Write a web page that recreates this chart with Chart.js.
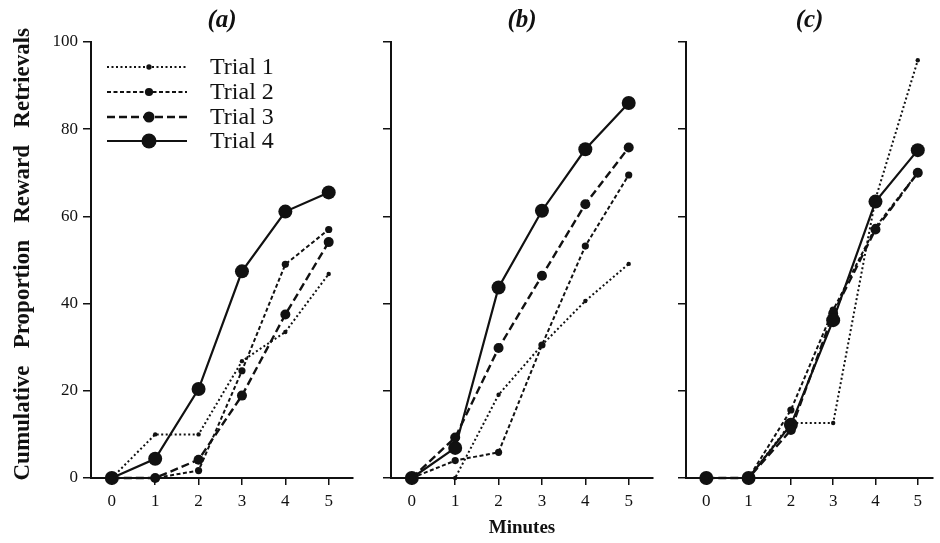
<!DOCTYPE html>
<html>
<head>
<meta charset="utf-8">
<script src="https://cdn.jsdelivr.net/npm/chart.js@4/dist/chart.umd.min.js"></script>
<style>
  html, body { margin: 0; padding: 0; background: #fff; }
  #wrap { position: relative; width: 940px; height: 543px; overflow: hidden; }
  canvas { position: absolute; top: 0; }
</style>
</head>
<body>
<div id="wrap">
  <canvas id="chartA" width="360" height="543" style="left:0"></canvas>
  <canvas id="chartB" width="300" height="543" style="left:360px"></canvas>
  <canvas id="chartC" width="280" height="543" style="left:660px"></canvas>
</div>
<script>
// ---- data ----
const minutes = [0, 1, 2, 3, 4, 5];
const yTicks = [0, 20, 40, 60, 80, 100];
const trialNames = ['Trial 1', 'Trial 2', 'Trial 3', 'Trial 4'];

// panel (a)
const a_trial1 = [0, 10, 10, 26.8, 33.5, 46.8];
const a_trial2 = [0, 0, 1.7, 24.6, 49, 57];
const a_trial3 = [0, 0, 4.2, 18.9, 37.5, 54.1];
const a_trial4 = [0, 4.4, 20.4, 47.4, 61.1, 65.5];

// panel (b)
const b_trial1 = [0, 0, 19.1, 30.5, 40.6, 49.1];
const b_trial2 = [0, 4, 5.9, 30.5, 53.2, 69.5];
const b_trial3 = [0, 9.3, 29.8, 46.4, 62.8, 75.8];
const b_trial4 = [0, 6.9, 43.7, 61.3, 75.4, 86];

// panel (c)
const c_trial1 = [0, 0, 12.6, 12.6, 64, 95.8];
const c_trial2 = [0, 0, 15.6, 38.5, 57.5, 70];
const c_trial3 = [0, 0, 11, 37.7, 57, 70];
const c_trial4 = [0, 0, 12.2, 36.2, 63.4, 75.2];

// line look for each trial
const trialStyles = [
  { dash: [2, 2.5], width: 2, radius: 2.2 },
  { dash: [4, 2.5], width: 2, radius: 3.6 },
  { dash: [8, 4], width: 2.4, radius: 5 },
  { dash: [], width: 2.2, radius: 7 }
];

const INK = '#111';
const SERIF = '"Liberation Serif", "Times New Roman", serif';

Chart.defaults.font.family = SERIF;
Chart.defaults.color = INK;

/* ========== legend drawn inside panel (a) ========== */
const trialLegend = {
  id: 'trialLegend',
  afterDraw(chart) {
    const ctx = chart.ctx;
    const rows = [67, 92, 117, 141];
    chart.data.datasets.forEach((ds, i) => {
      const y = rows[i];
      ctx.save();
      ctx.strokeStyle = INK;
      ctx.lineWidth = ds.borderWidth;
      ctx.setLineDash(ds.borderDash);
      ctx.beginPath();
      ctx.moveTo(107, y);
      ctx.lineTo(187, y);
      ctx.stroke();
      ctx.setLineDash([]);
      ctx.fillStyle = INK;
      ctx.beginPath();
      ctx.arc(149, y, ds.pointRadius + 0.5, 0, Math.PI * 2);
      ctx.fill();
      ctx.font = '24px ' + SERIF;
      ctx.textBaseline = 'middle';
      ctx.fillText(ds.label, 210, y + 1);
      ctx.restore();
    });
  }
};

/* ========== one panel ========== */
function makePanel(canvasId, title, series, cfg) {
  const datasets = series.map((vals, i) => ({
    label: trialNames[i],
    data: minutes.map((m, j) => ({ x: m, y: vals[j] })),
    borderColor: INK,
    backgroundColor: INK,
    borderWidth: trialStyles[i].width,
    borderDash: trialStyles[i].dash,
    pointRadius: trialStyles[i].radius,
    pointBorderWidth: 0,
    pointBackgroundColor: INK,
    tension: 0,
    clip: false
  }));

  return new Chart(document.getElementById(canvasId), {
    type: 'line',
    data: { datasets },
    plugins: cfg.legend ? [trialLegend] : [],
    options: {
      responsive: false,
      animation: false,
      layout: { padding: 0 },
      plugins: {
        legend: { display: false },
        tooltip: { enabled: false },
        title: {
          display: true,
          text: title,
          fullSize: false,
          font: { size: 25, style: 'italic', weight: 'bold', family: SERIF },
          padding: { top: 6, bottom: 6 },
          color: INK
        }
      },
      scales: {
        x: {
          type: 'linear',
          min: -0.48,
          max: cfg.xMax,
          afterBuildTicks: s => { s.ticks = minutes.map(v => ({ value: v })); },
          afterFit: s => { s.height = 65; },
          border: { display: true, color: INK, width: 2 },
          grid: { drawOnChartArea: false, drawTicks: true, tickLength: 7, color: INK, lineWidth: 1.5 },
          ticks: { font: { size: 17 }, padding: 6, color: INK },
          title: {
            display: !!cfg.xTitle,
            text: 'Minutes',
            font: { size: 19, weight: 'bold' },
            padding: { top: 0, bottom: 4 },
            color: INK
          }
        },
        y: {
          min: 0,
          max: 100,
          afterBuildTicks: s => { s.ticks = yTicks.map(v => ({ value: v })); },
          afterFit: s => { s.width = cfg.axisWidth; },
          border: { display: true, color: INK, width: 2 },
          grid: { drawOnChartArea: false, drawTicks: true, tickLength: 8, color: INK, lineWidth: 1.5 },
          ticks: { display: !!cfg.yLabels, font: { size: 17 }, padding: 5, color: INK },
          title: {
            display: !!cfg.yTitle,
            text: '  Cumulative   Proportion   Reward   Retrievals',
            font: { size: 23, weight: 'bold' },
            padding: { top: 9, bottom: 0 },
            color: INK
          }
        }
      }
    }
  });
}

makePanel('chartA', '(a)', [a_trial1, a_trial2, a_trial3, a_trial4],
  { axisWidth: 91, xMax: 5.56, yLabels: true, yTitle: true, legend: true });
makePanel('chartB', '(b)', [b_trial1, b_trial2, b_trial3, b_trial4],
  { axisWidth: 31, xMax: 5.56, xTitle: true });
makePanel('chartC', '(c)', [c_trial1, c_trial2, c_trial3, c_trial4],
  { axisWidth: 26, xMax: 5.36 });
</script>
</body>
</html>
